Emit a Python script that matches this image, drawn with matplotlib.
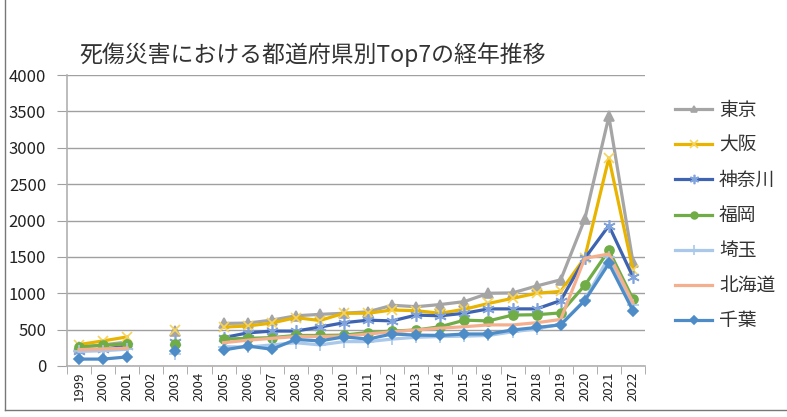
import matplotlib
matplotlib.use("Agg")
import matplotlib.pyplot as plt
import numpy as np
from matplotlib.lines import Line2D

plt.rcParams['font.family'] = ['Noto Sans CJK JP', 'DejaVu Sans']

nan = np.nan
years = [str(y) for y in range(1999, 2023)]

# values, 2002 and 2004 missing
tokyo    = [260, 290, 330, nan, 475, nan, 585, 590, 630, 690, 710, 725, 745, 835, 815, 845, 885, 1000, 1005, 1100, 1185, 2020, 3430, 1430]
osaka    = [295, 345, 400, nan, 490, nan, 535, 550, 590, 665, 625, 725, 725, 770, 760, 725, 780, 860, 930, 1000, 1025, 1490, 2860, 1320]
kanagawa = [210, 230, 275, nan, 330, nan, 390, 455, 480, 480, 535, 595, 630, 620, 700, 690, 725, 785, 785, 785, 900, 1480, 1930, 1225]
fukuoka  = [260, 285, 305, nan, 300, nan, 370, 380, 390, 420, 420, 425, 460, 480, 495, 540, 630, 620, 700, 705, 730, 1110, 1590, 920]
saitama  = [200, 210, 230, nan, 165, nan, 265, 260, 290, 320, 290, 335, 335, 370, 395, 405, 410, 420, 470, 510, 575, 905, 1500, 840]
hokkaido = [225, 235, 245, nan, 280, nan, 320, 355, 380, 405, 405, 410, 440, 470, 495, 520, 540, 565, 565, 595, 640, 1480, 1540, 870]
chiba    = [95, 95, 125, nan, 200, nan, 220, 275, 230, 365, 345, 400, 370, 440, 425, 420, 440, 440, 495, 530, 565, 900, 1410, 760]

series = [
    ('東京', tokyo, '#A5A5A5', '^', '#A5A5A5', 6.5),
    ('大阪', osaka, '#E8B400', 'x', '#F7D35C', 7.5),
    ('神奈川', kanagawa, '#3E63B0', (6, 2, 0), '#7FA3DA', 9),
    ('福岡', fukuoka, '#70AD47', 'o', '#70AD47', 6.5),
    ('埼玉', saitama, '#A9C8EA', '+', '#A9C8EA', 9),
    ('北海道', hokkaido, '#F4B08E', None, '#F4B08E', 0),
    ('千葉', chiba, '#4E8CC8', 'D', '#4E8CC8', 5.5),
]

fig = plt.figure(figsize=(7.87, 4.17), dpi=100)
ax = fig.add_axes([67 / 787, (417 - 366) / 417, (645 - 67) / 787, (366 - 75) / 417])

x = np.arange(len(years))
handles = []
for name, vals, col, mk, mcol, ms in series:
    ln, = ax.plot(x, vals, color=col, lw=2.3, marker=mk, ms=ms,
                  mfc=mcol, mec=mcol, mew=1.2, label=name, zorder=3)
    handles.append(ln)

ax.set_xlim(-0.5, len(years) - 0.5)
ax.set_ylim(0, 4000)
ax.set_yticks(np.arange(0, 4001, 500))
ax.set_yticklabels([str(v) for v in range(0, 4001, 500)], fontsize=12, color='#222222')
ax.set_xticks(x)
ax.set_xticklabels(years, rotation=90, fontsize=9.5, color='#222222')
ax.set_xticks(np.arange(-0.5, len(years), 1), minor=True)
ax.tick_params(axis='x', which='major', length=0, pad=4)
ax.tick_params(axis='x', which='minor', length=6, color='#A0A0A0', direction='out')
ax.tick_params(axis='y', length=7, color='#A0A0A0', direction='out', pad=8)
ax.grid(axis='y', color='#A0A0A0', lw=1)
ax.set_axisbelow(True)
for s in ['top', 'right']:
    ax.spines[s].set_visible(False)
for s in ['left', 'bottom']:
    ax.spines[s].set_color('#B0B0B0')
    ax.spines[s].set_linewidth(1.2)

fig.text(313 / 787, 1 - 55 / 417, '死傷災害における都道府県別Top7の経年推移',
         fontsize=16.5, ha='center', va='center', color='#333333')

leg = fig.legend(handles=handles, loc='upper left', bbox_to_anchor=(658 / 787, 1 - 83 / 417),
                 frameon=False, fontsize=13.5, labelspacing=0.75, handlelength=2.0,
                 handletextpad=0.35, markerscale=0.75)
for t in leg.get_texts():
    t.set_color('#333333')

# outer chart border (left and bottom)
fig.add_artist(Line2D([5 / 787, 5 / 787], [7 / 417, 1], transform=fig.transFigure, color='#777777', lw=1))
fig.add_artist(Line2D([5 / 787, 1], [7 / 417, 7 / 417], transform=fig.transFigure, color='#777777', lw=1))

fig.savefig('out.png', dpi=100)
